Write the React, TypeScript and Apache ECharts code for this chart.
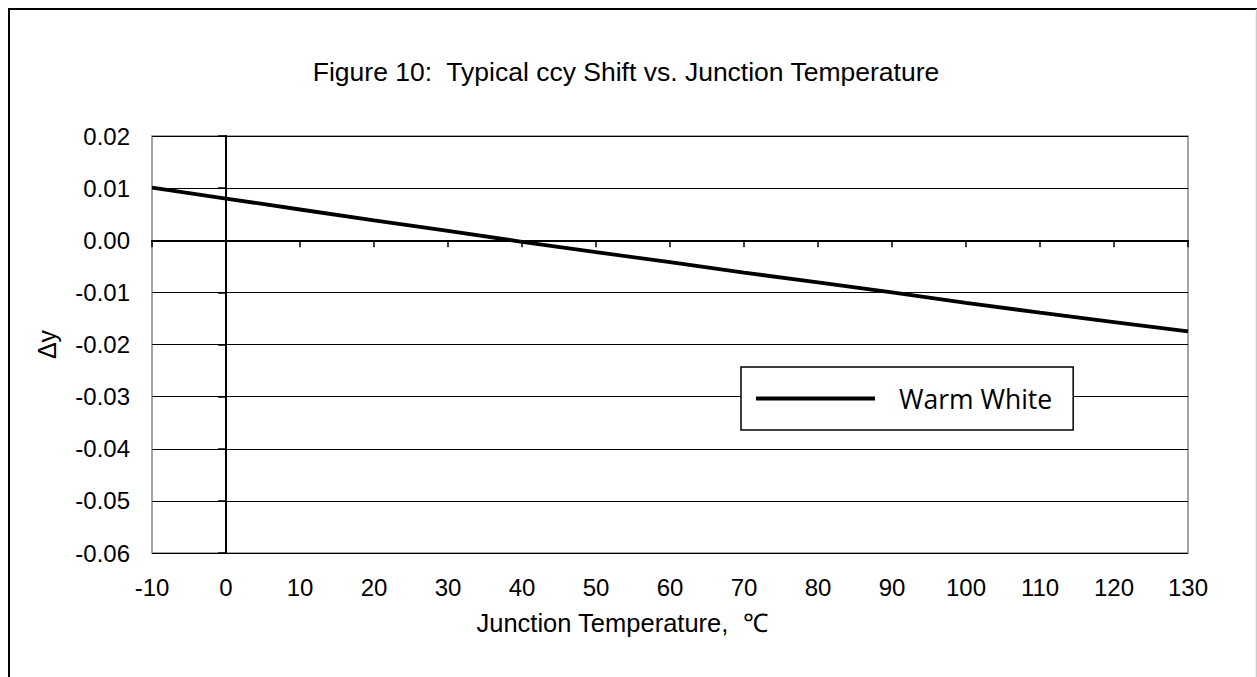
import React, { useEffect, useRef } from "react";
import * as echarts from "echarts";

const temperatures = [-10, 0, 10, 20, 30, 40, 50, 60, 70, 80, 90, 100, 110, 120, 130];
const warmWhite = [0.0101, 0.008, 0.0059, 0.0038, 0.0018, -0.0003, -0.0023, -0.0042, -0.0062, -0.0081, -0.01, -0.012, -0.0139, -0.0157, -0.0175];
const seriesName = "Warm White";
const titleText = "Figure 10:  Typical ccy Shift vs. Junction Temperature";
const xName = "Junction Temperature,  \u2103";
const yName = "\u0394y";

const FONT = "Liberation Sans, Arial, sans-serif";

export default function App() {
  const ref = useRef<HTMLDivElement>(null);
  useEffect(() => {
    if (!ref.current) return;
    const chart = echarts.init(ref.current, undefined, { renderer: "svg" });
    const xRange = { min: -10, max: 130, interval: 10 };
    const yRange = { min: -0.06, max: 0.02, interval: 0.01 };
    chart.setOption({
      animation: false,
      backgroundColor: "#ffffff",
      title: {
        text: titleText,
        left: 621,
        top: 53,
        textAlign: "center",
        textStyle: { fontFamily: FONT, fontSize: 26.5, fontWeight: "normal", color: "#000" },
      },
      graphic: [
        {
          type: "polyline",
          shape: { points: [[9, 677], [9, 9], [1257, 9]] },
          style: { stroke: "#000", lineWidth: 2, fill: "none" },
          silent: true,
        },
        {
          type: "line",
          shape: { x1: 1256.5, y1: 9, x2: 1256.5, y2: 677 },
          style: { stroke: "#cccccc", lineWidth: 1.5 },
          silent: true,
        },
      ],
      grid: {
        left: 152,
        top: 136,
        right: 69,
        bottom: 124,
        show: true,
        borderColor: "#888888",
        borderWidth: 1.5,
        backgroundColor: "transparent",
      },
      legend: {
        left: 741,
        top: 367,
        orient: "horizontal",
        backgroundColor: "#ffffff",
        borderColor: "#000",
        borderWidth: 1.5,
        borderRadius: 0,
        padding: [18, 21, 18, 15],
        itemWidth: 119,
        itemHeight: 4,
        itemGap: 0,
        textStyle: { fontFamily: "Open Sans", fontSize: 26.5, color: "#000", padding: [0, 0, 0, 19] },
        data: [{ name: seriesName, icon: "rect", itemStyle: { color: "#000" } }],
      },
      xAxis: [
        {
          type: "value",
          ...xRange,
          position: "bottom",
          axisLine: { show: false, onZero: false },
          axisTick: { show: false },
          splitLine: { show: false },
          axisLabel: { margin: 22, fontFamily: FONT, fontSize: 24, color: "#000" },
          name: xName,
          nameLocation: "middle",
          nameGap: 57,
          nameTextStyle: { fontFamily: FONT, fontSize: 25.5, color: "#000", padding: [0, 0, 0, -96] },
        },
        {
          type: "value",
          ...xRange,
          position: "bottom",
          axisLine: { show: true, onZero: true, onZeroAxisIndex: 0, lineStyle: { color: "#000", width: 2 } },
          axisTick: { show: true, inside: false, length: 7, lineStyle: { color: "#000", width: 1.5 } },
          splitLine: { show: false },
          axisLabel: { show: false },
        },
      ],
      yAxis: [
        {
          type: "value",
          ...yRange,
          position: "left",
          axisLine: { show: false, onZero: false },
          axisTick: { show: false },
          splitLine: { show: true, lineStyle: { color: "#000", width: 1 } },
          axisLabel: {
            margin: 22,
            fontFamily: FONT,
            fontSize: 24,
            color: "#000",
            formatter: (v: number) => v.toFixed(2),
          },
          name: yName,
          nameLocation: "middle",
          nameGap: 93,
          nameRotate: 90,
          nameTextStyle: { fontFamily: FONT, fontSize: 25, color: "#000" },
        },
        {
          type: "value",
          ...yRange,
          position: "left",
          axisLine: { show: true, onZero: true, onZeroAxisIndex: 0, lineStyle: { color: "#000", width: 2 } },
          axisTick: { show: true, inside: false, length: 8, lineStyle: { color: "#000", width: 1.5 } },
          splitLine: { show: false },
          axisLabel: { show: false },
        },
      ],
      series: [
        {
          name: seriesName,
          type: "line",
          xAxisIndex: 0,
          yAxisIndex: 0,
          data: temperatures.map((t, i) => [t, warmWhite[i]]),
          showSymbol: false,
          symbol: "none",
          lineStyle: { color: "#000", width: 3.8 },
          itemStyle: { color: "#000" },
          z: 5,
        },
      ],
    });
    return () => chart.dispose();
  }, []);
  return (
    <div
      ref={ref}
      style={{ position: "fixed", left: 0, top: 0, width: 1257, height: 677 }}
    />
  );
}
